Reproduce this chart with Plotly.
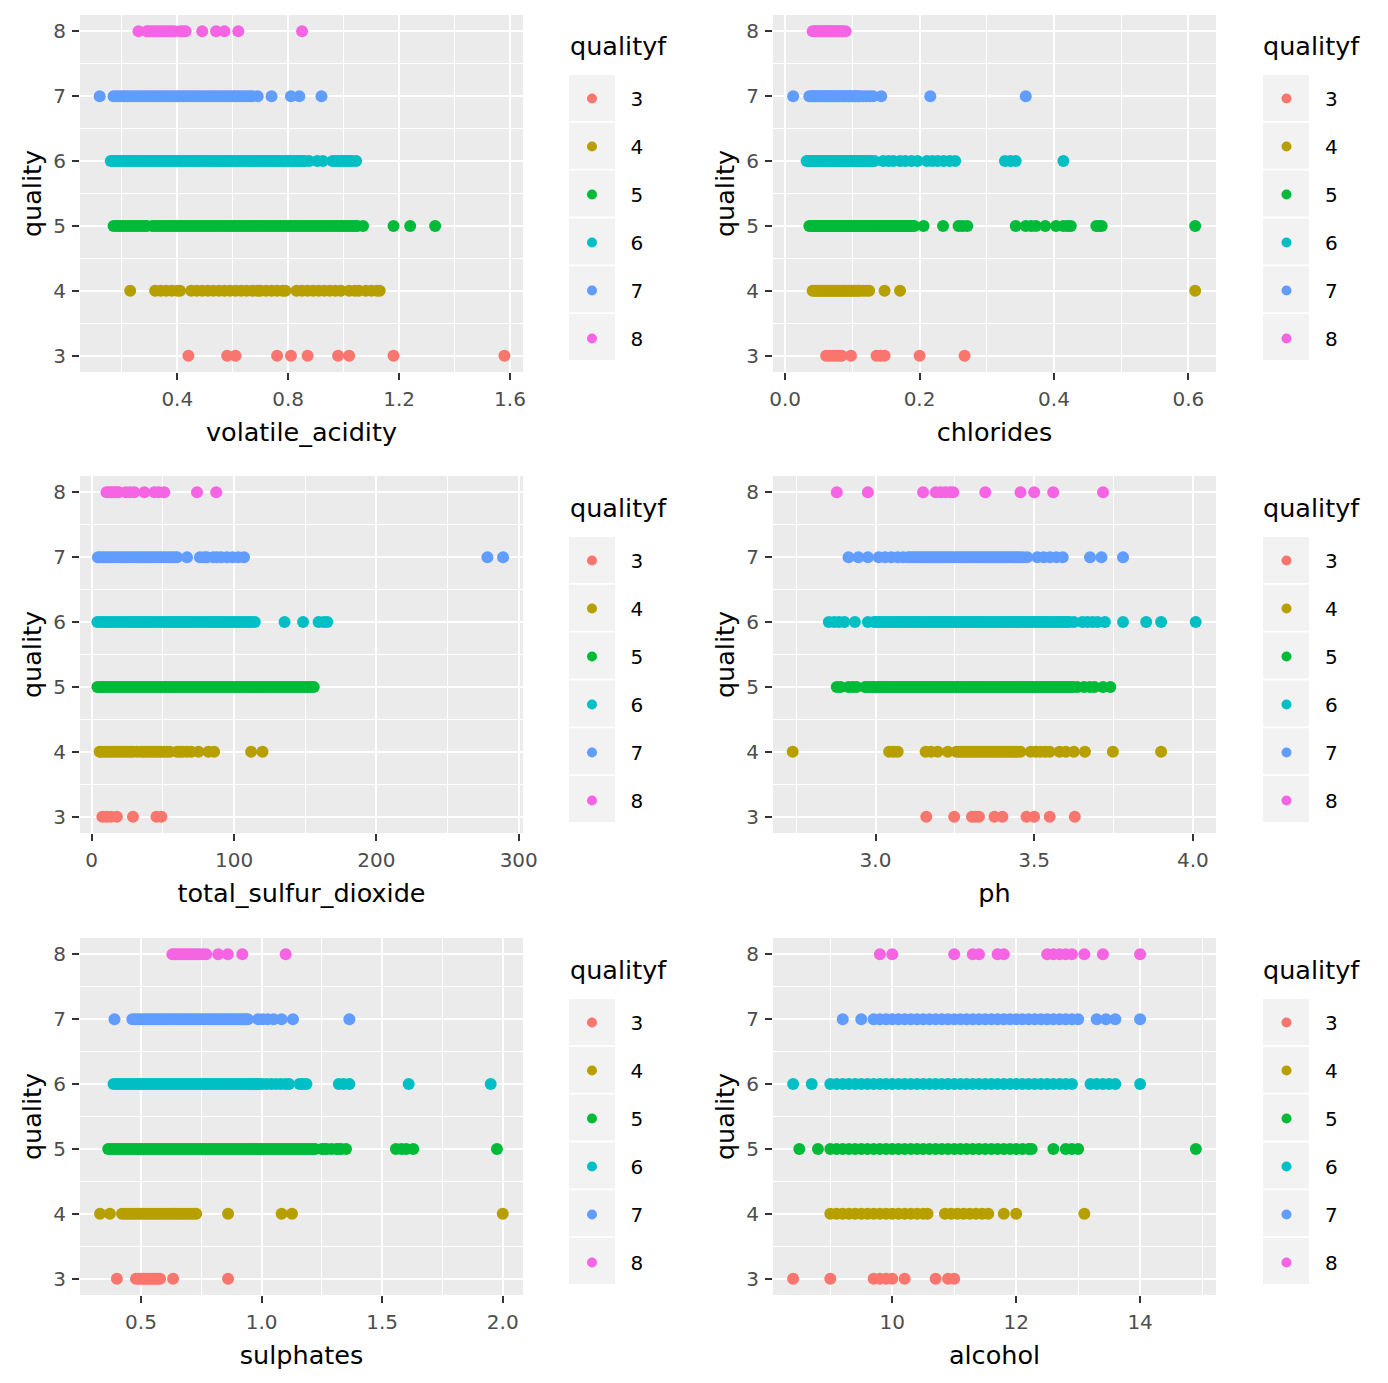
import plotly.graph_objects as go

# The page body has an 8px margin; the figure is sized so that it fits the window.
W, H = 1372, 1367

qualities = ["3", "4", "5", "6", "7", "8"]
colors = ["#F8766D", "#B79F00", "#00BA38", "#00BFC4", "#619CFF", "#F564E3"]

# ---------------- volatile_acidity ----------------
va_3 = [0.44, 0.58, 0.61, 0.76, 0.81, 0.87, 0.98, 1.02, 1.18, 1.58]
va_4 = [0.23, 0.32, 0.34, 0.36, 0.38, 0.40, 0.41, 0.45, 0.47, 0.49, 0.51, 0.53, 0.55,
        0.57, 0.59, 0.61, 0.63, 0.65, 0.67, 0.69, 0.70, 0.72, 0.74, 0.76, 0.78, 0.79,
        0.83, 0.85, 0.87, 0.89, 0.91, 0.93, 0.95, 0.97, 0.99, 1.02, 1.04, 1.055,
        1.08, 1.10, 1.12, 1.13]
va_5 = [0.17, 0.18, 0.19, 0.20, 0.21, 0.22, 0.23, 0.24, 0.25, 0.26, 0.27, 0.28, 0.29,
        0.31, 0.32, 0.33, 0.34, 0.35, 0.36, 0.37, 0.38, 0.39, 0.40, 0.41, 0.42, 0.43,
        0.44, 0.45, 0.46, 0.47, 0.48, 0.49, 0.50, 0.51, 0.52, 0.53, 0.54, 0.55, 0.56,
        0.57, 0.58, 0.59, 0.60, 0.61, 0.62, 0.63, 0.64, 0.65, 0.66, 0.67, 0.68, 0.69,
        0.70, 0.71, 0.72, 0.73, 0.74, 0.75, 0.76, 0.77, 0.78, 0.79, 0.80, 0.81, 0.82,
        0.83, 0.84, 0.85, 0.86, 0.87, 0.88, 0.89, 0.90, 0.91, 0.92, 0.93, 0.94, 0.95,
        0.96, 0.97, 0.98, 0.99, 1.00, 1.01, 1.02, 1.03, 1.04, 1.05, 1.07, 1.18, 1.24,
        1.33]
va_6 = [0.16, 0.17, 0.18, 0.19, 0.20, 0.21, 0.22, 0.23, 0.24, 0.25, 0.26, 0.27, 0.28,
        0.29, 0.30, 0.31, 0.32, 0.33, 0.34, 0.35, 0.36, 0.37, 0.38, 0.39, 0.40, 0.41,
        0.42, 0.43, 0.44, 0.45, 0.46, 0.47, 0.48, 0.49, 0.50, 0.51, 0.52, 0.53, 0.54,
        0.55, 0.56, 0.57, 0.58, 0.59, 0.60, 0.61, 0.62, 0.63, 0.64, 0.65, 0.66, 0.67,
        0.68, 0.69, 0.70, 0.71, 0.72, 0.73, 0.74, 0.75, 0.76, 0.77, 0.78, 0.79, 0.80,
        0.81, 0.82, 0.83, 0.84, 0.85, 0.86, 0.875, 0.905, 0.925, 0.96, 0.97, 0.98,
        0.99, 1.00, 1.01, 1.02, 1.03, 1.045]
va_7 = [0.12, 0.17, 0.18, 0.19, 0.20, 0.21, 0.22, 0.23, 0.24, 0.25, 0.26, 0.27, 0.28,
        0.29, 0.30, 0.31, 0.32, 0.33, 0.34, 0.35, 0.36, 0.37, 0.38, 0.39, 0.40, 0.41,
        0.42, 0.43, 0.44, 0.45, 0.46, 0.47, 0.48, 0.49, 0.50, 0.51, 0.52, 0.53, 0.54,
        0.55, 0.56, 0.57, 0.58, 0.59, 0.60, 0.61, 0.62, 0.63, 0.64, 0.65, 0.66, 0.67,
        0.69, 0.74, 0.81, 0.84, 0.92]
va_8 = [0.26, 0.29, 0.30, 0.31, 0.32, 0.33, 0.34, 0.35, 0.36, 0.37, 0.38, 0.39, 0.41,
        0.42, 0.43, 0.49, 0.54, 0.57, 0.62, 0.85]

# ---------------- chlorides ----------------
ch_3 = [0.061, 0.066, 0.071, 0.076, 0.080, 0.084, 0.098, 0.136, 0.142, 0.148, 0.200, 0.267]
ch_4 = [0.041, 0.044, 0.046, 0.049, 0.051, 0.054, 0.056, 0.059, 0.061, 0.064, 0.066,
        0.069, 0.071, 0.074, 0.076, 0.079, 0.081, 0.084, 0.086, 0.089, 0.091, 0.094,
        0.096, 0.099, 0.101, 0.104, 0.106, 0.109, 0.111, 0.116, 0.121, 0.125, 0.148,
        0.171, 0.610]
ch_5 = [0.036, 0.039, 0.041, 0.044, 0.046, 0.049, 0.051, 0.054, 0.056, 0.059, 0.061,
        0.064, 0.066, 0.069, 0.071, 0.074, 0.076, 0.079, 0.081, 0.084, 0.086, 0.089,
        0.091, 0.094, 0.096, 0.099, 0.101, 0.104, 0.106, 0.109, 0.111, 0.114, 0.116,
        0.119, 0.121, 0.124, 0.126, 0.129, 0.131, 0.134, 0.136, 0.139, 0.141, 0.144,
        0.146, 0.149, 0.151, 0.154, 0.156, 0.159, 0.161, 0.164, 0.166, 0.169, 0.171,
        0.174, 0.176, 0.179, 0.181, 0.184, 0.186, 0.189, 0.192, 0.206, 0.235, 0.258,
        0.264, 0.271, 0.343, 0.358, 0.366, 0.373, 0.387, 0.403, 0.414, 0.420, 0.425,
        0.463, 0.467, 0.471, 0.610]
ch_6 = [0.032, 0.035, 0.037, 0.040, 0.042, 0.045, 0.047, 0.050, 0.052, 0.055, 0.057,
        0.060, 0.062, 0.065, 0.067, 0.070, 0.072, 0.075, 0.077, 0.080, 0.082, 0.085,
        0.087, 0.090, 0.092, 0.095, 0.097, 0.100, 0.102, 0.105, 0.107, 0.110, 0.112,
        0.115, 0.117, 0.120, 0.122, 0.125, 0.127, 0.130, 0.133, 0.146, 0.154, 0.161,
        0.171, 0.179, 0.188, 0.197, 0.211, 0.219, 0.227, 0.236, 0.245, 0.253, 0.327,
        0.335, 0.343, 0.414]
ch_7 = [0.012, 0.036, 0.039, 0.041, 0.044, 0.046, 0.049, 0.051, 0.054, 0.056, 0.059,
        0.061, 0.064, 0.066, 0.069, 0.071, 0.074, 0.076, 0.079, 0.081, 0.084, 0.086,
        0.089, 0.091, 0.094, 0.096, 0.099, 0.101, 0.104, 0.106, 0.109, 0.111, 0.116,
        0.121, 0.126, 0.131, 0.143, 0.216, 0.358]
ch_8 = [0.041, 0.044, 0.046, 0.049, 0.051, 0.054, 0.056, 0.059, 0.061, 0.064, 0.066,
        0.069, 0.071, 0.074, 0.076, 0.079, 0.081, 0.084, 0.086, 0.090]

# ---------------- total_sulfur_dioxide ----------------
ts_3 = [7.5, 10.5, 13.5, 17.7, 29, 45.5, 49]
ts_4 = [5.6, 7, 9, 11, 13, 15, 17, 19, 21, 23, 25, 27, 29, 32, 35, 37, 39, 41, 43, 45,
        47, 49, 51, 53, 55, 60, 62, 64, 67, 70, 75, 82, 86, 112, 120]
ts_5 = [4, 6, 8, 10, 12, 14, 16, 18, 20, 22, 24, 26, 28, 30, 32, 34, 36, 38, 40, 42,
        44, 46, 48, 50, 52, 54, 56, 58, 60, 62, 64, 66, 68, 70, 72, 74, 76, 78, 80, 82,
        84, 86, 88, 90, 92, 94, 96, 98, 100, 102, 104, 106, 108, 110, 112, 114, 116,
        118, 120, 122, 124, 126, 128, 130, 132, 134, 136, 138, 140, 142, 144, 146, 148,
        150, 152, 154, 156]
ts_6 = [4, 6, 8, 10, 12, 14, 16, 18, 20, 22, 24, 26, 28, 30, 32, 34, 36, 38, 40, 42,
        44, 46, 48, 50, 52, 54, 56, 58, 60, 62, 64, 66, 68, 70, 72, 74, 76, 78, 80, 82,
        84, 86, 88, 90, 92, 94, 96, 98, 100, 102, 104, 106, 108, 110, 112, 114.6, 135.5,
        148.5, 159.4, 163, 165.5]
ts_7 = [4.4, 6, 8, 10, 12, 14, 16, 18, 20, 22, 24, 26, 28, 30, 32, 34, 36, 38, 40, 42,
        44, 46, 48, 50, 52, 54, 56, 58, 60, 67, 76, 79, 81, 85.5, 88, 91, 95, 99, 103,
        107, 278, 289]
ts_8 = [10.4, 12, 13.5, 15, 16.5, 18, 19, 24, 27, 30, 37, 44, 47, 51, 74, 87.5]

# ---------------- ph ----------------
ph_3 = [3.16, 3.248, 3.304, 3.315, 3.326, 3.375, 3.40, 3.476, 3.50, 3.549, 3.628]
ph_4 = [2.739, 3.043, 3.057, 3.07, 3.158, 3.175, 3.196, 3.228, 3.255, 3.263, 3.271,
        3.279, 3.287, 3.295, 3.303, 3.311, 3.319, 3.327, 3.335, 3.343, 3.351, 3.359,
        3.367, 3.375, 3.383, 3.391, 3.399, 3.407, 3.415, 3.423, 3.431, 3.439, 3.446,
        3.457, 3.489, 3.505, 3.52, 3.535, 3.549, 3.58, 3.60, 3.625, 3.66, 3.748, 3.90]
ph_5 = [2.878, 2.89, 2.915, 2.928, 2.94, 2.967, 2.975, 2.983, 2.991, 2.999, 3.007,
        3.015, 3.023, 3.031, 3.039, 3.047, 3.055, 3.063, 3.071, 3.079, 3.087, 3.095,
        3.103, 3.111, 3.119, 3.127, 3.135, 3.143, 3.151, 3.159, 3.167, 3.175, 3.183,
        3.191, 3.199, 3.207, 3.215, 3.223, 3.231, 3.239, 3.247, 3.255, 3.263, 3.271,
        3.279, 3.287, 3.295, 3.303, 3.311, 3.319, 3.327, 3.335, 3.343, 3.351, 3.359,
        3.367, 3.375, 3.383, 3.391, 3.399, 3.407, 3.415, 3.423, 3.431, 3.439, 3.447,
        3.455, 3.463, 3.471, 3.479, 3.487, 3.495, 3.503, 3.511, 3.519, 3.527, 3.535,
        3.543, 3.551, 3.559, 3.567, 3.575, 3.583, 3.591, 3.599, 3.607, 3.615, 3.623,
        3.636, 3.657, 3.675, 3.69, 3.717, 3.74]
ph_6 = [2.853, 2.87, 2.885, 2.902, 2.935, 2.976, 2.995, 3.003, 3.011, 3.019, 3.027,
        3.035, 3.043, 3.051, 3.059, 3.067, 3.075, 3.083, 3.091, 3.099, 3.107, 3.115,
        3.123, 3.131, 3.139, 3.147, 3.155, 3.163, 3.171, 3.179, 3.187, 3.195, 3.203,
        3.211, 3.219, 3.227, 3.235, 3.243, 3.251, 3.259, 3.267, 3.275, 3.283, 3.291,
        3.299, 3.307, 3.315, 3.323, 3.331, 3.339, 3.347, 3.355, 3.363, 3.371, 3.379,
        3.387, 3.395, 3.403, 3.411, 3.419, 3.427, 3.435, 3.443, 3.451, 3.459, 3.467,
        3.475, 3.483, 3.491, 3.499, 3.507, 3.515, 3.523, 3.531, 3.539, 3.547, 3.555,
        3.563, 3.571, 3.579, 3.587, 3.595, 3.603, 3.611, 3.625, 3.652, 3.668, 3.684,
        3.70, 3.723, 3.78, 3.853, 3.90, 4.009]
ph_7 = [2.915, 2.946, 2.976, 3.01, 3.03, 3.05, 3.07, 3.087, 3.103, 3.111, 3.119, 3.127,
        3.135, 3.143, 3.151, 3.159, 3.167, 3.175, 3.183, 3.191, 3.199, 3.207, 3.215,
        3.223, 3.231, 3.239, 3.247, 3.255, 3.263, 3.271, 3.279, 3.287, 3.295, 3.303,
        3.311, 3.319, 3.327, 3.335, 3.343, 3.351, 3.359, 3.367, 3.375, 3.383, 3.391,
        3.399, 3.407, 3.415, 3.423, 3.431, 3.439, 3.447, 3.455, 3.465, 3.478, 3.51,
        3.53, 3.55, 3.57, 3.59, 3.676, 3.712, 3.78]
ph_8 = [2.878, 2.976, 3.15, 3.19, 3.205, 3.22, 3.235, 3.245, 3.346, 3.457, 3.50, 3.56,
        3.717]

# ---------------- sulphates ----------------
su_3 = [0.40, 0.479, 0.49, 0.50, 0.51, 0.52, 0.53, 0.54, 0.55, 0.56, 0.57, 0.579, 0.633,
        0.861]
su_4 = [0.33, 0.371, 0.421, 0.432, 0.443, 0.454, 0.465, 0.476, 0.487, 0.498, 0.509,
        0.520, 0.531, 0.542, 0.553, 0.564, 0.575, 0.586, 0.597, 0.608, 0.619, 0.630,
        0.641, 0.652, 0.663, 0.674, 0.685, 0.696, 0.707, 0.718, 0.729, 0.861, 1.083,
        1.126, 2.0]
su_5 = [0.364, 0.375, 0.386, 0.397, 0.408, 0.419, 0.430, 0.441, 0.452, 0.463, 0.474,
        0.485, 0.496, 0.507, 0.518, 0.529, 0.540, 0.551, 0.562, 0.573, 0.584, 0.595,
        0.606, 0.617, 0.628, 0.639, 0.650, 0.661, 0.672, 0.683, 0.694, 0.705, 0.716,
        0.727, 0.738, 0.749, 0.760, 0.771, 0.782, 0.793, 0.804, 0.815, 0.826, 0.837,
        0.848, 0.859, 0.870, 0.881, 0.892, 0.903, 0.914, 0.925, 0.936, 0.947, 0.958,
        0.969, 0.980, 0.991, 1.002, 1.013, 1.024, 1.035, 1.046, 1.057, 1.068, 1.079,
        1.090, 1.101, 1.112, 1.123, 1.134, 1.145, 1.156, 1.167, 1.178, 1.189, 1.200,
        1.211, 1.222, 1.25, 1.26, 1.27, 1.29, 1.31, 1.32, 1.33, 1.35, 1.557, 1.58, 1.60,
        1.629, 1.976]
su_6 = [0.386, 0.397, 0.408, 0.419, 0.430, 0.441, 0.452, 0.463, 0.474, 0.485, 0.496,
        0.507, 0.518, 0.529, 0.540, 0.551, 0.562, 0.573, 0.584, 0.595, 0.606, 0.617,
        0.628, 0.639, 0.650, 0.661, 0.672, 0.683, 0.694, 0.705, 0.716, 0.727, 0.738,
        0.749, 0.760, 0.771, 0.782, 0.793, 0.804, 0.815, 0.826, 0.837, 0.848, 0.859,
        0.870, 0.881, 0.892, 0.903, 0.914, 0.925, 0.936, 0.947, 0.958, 0.969, 0.980,
        0.990, 1.0, 1.02, 1.04, 1.06, 1.08, 1.10, 1.114, 1.157, 1.17, 1.186, 1.32, 1.34,
        1.364, 1.61, 1.95]
su_7 = [0.39, 0.464, 0.475, 0.486, 0.497, 0.508, 0.519, 0.530, 0.541, 0.552, 0.563,
        0.574, 0.585, 0.596, 0.607, 0.618, 0.629, 0.640, 0.651, 0.662, 0.673, 0.684,
        0.695, 0.706, 0.717, 0.728, 0.739, 0.750, 0.761, 0.772, 0.783, 0.794, 0.805,
        0.816, 0.827, 0.838, 0.849, 0.860, 0.871, 0.882, 0.893, 0.904, 0.915, 0.926,
        0.935, 0.943, 0.986, 1.005, 1.025, 1.05, 1.083, 1.13, 1.364]
su_8 = [0.63, 0.641, 0.652, 0.663, 0.674, 0.685, 0.696, 0.707, 0.718, 0.729, 0.74,
        0.755, 0.77, 0.82, 0.86, 0.92, 1.10]

# ---------------- alcohol ----------------
al_3 = [8.4, 9.0, 9.7, 9.8, 9.9, 10.0, 10.2, 10.7, 10.9, 11.0]
al_4 = [9.0, 9.1, 9.2, 9.3, 9.4, 9.5, 9.6, 9.7, 9.8, 9.9, 10.0, 10.1, 10.2, 10.3, 10.4,
        10.5, 10.57, 10.85, 10.95, 11.05, 11.15, 11.25, 11.35, 11.45, 11.55, 11.8, 12.0,
        13.1]
al_5 = [8.5, 8.8, 9.0, 9.1, 9.2, 9.3, 9.4, 9.5, 9.6, 9.7, 9.8, 9.9, 10.0, 10.1, 10.2,
        10.3, 10.4, 10.5, 10.6, 10.7, 10.8, 10.9, 11.0, 11.1, 11.2, 11.3, 11.4, 11.5,
        11.6, 11.7, 11.8, 11.9, 12.0, 12.1, 12.2, 12.25, 12.6, 12.8, 12.9, 13.0, 14.9]
al_6 = [8.4, 8.7, 9.0, 9.1, 9.2, 9.3, 9.4, 9.5, 9.6, 9.7, 9.8, 9.9, 10.0, 10.1, 10.2,
        10.3, 10.4, 10.5, 10.6, 10.7, 10.8, 10.9, 11.0, 11.1, 11.2, 11.3, 11.4, 11.5,
        11.6, 11.7, 11.8, 11.9, 12.0, 12.1, 12.2, 12.3, 12.4, 12.5, 12.6, 12.7, 12.8,
        12.9, 13.2, 13.3, 13.4, 13.5, 13.6, 14.0]
al_7 = [9.2, 9.5, 9.7, 9.8, 9.9, 10.0, 10.1, 10.2, 10.3, 10.4, 10.5, 10.6, 10.7, 10.8,
        10.9, 11.0, 11.1, 11.2, 11.3, 11.4, 11.5, 11.6, 11.7, 11.8, 11.9, 12.0, 12.1,
        12.2, 12.3, 12.4, 12.5, 12.6, 12.7, 12.8, 12.9, 13.0, 13.3, 13.45, 13.6, 14.0]
al_8 = [9.8, 10.0, 11.0, 11.3, 11.4, 11.7, 11.8, 12.5, 12.6, 12.7, 12.8, 12.9, 13.1,
        13.4, 14.0]

variables = ["volatile_acidity", "chlorides", "total_sulfur_dioxide", "ph",
             "sulphates", "alcohol"]
series = [
    [va_3, va_4, va_5, va_6, va_7, va_8],
    [ch_3, ch_4, ch_5, ch_6, ch_7, ch_8],
    [ts_3, ts_4, ts_5, ts_6, ts_7, ts_8],
    [ph_3, ph_4, ph_5, ph_6, ph_7, ph_8],
    [su_3, su_4, su_5, su_6, su_7, su_8],
    [al_3, al_4, al_5, al_6, al_7, al_8],
]
x_ranges = [[0.049, 1.647], [-0.018, 0.641], [-8.2, 303.0], [2.677, 4.073],
            [0.247, 2.084], [8.075, 15.225]]
x_dticks = [0.4, 0.2, 100, 0.5, 0.5, 2]
x_formats = [".1f", ".1f", "d", ".1f", ".1f", "d"]

# ---------------- layout geometry (figure pixels) ----------------
col_left = [72, 765]
col_w = 443
row_top = [7, 468, 930]
row_h = 357
legend_x = [545.5, 1240]
legend_item_w = 67
key_x0 = [561, 1255]
key_w = 46
key_first = [90, 552, 1014]
key_step = 47.8
legend_title_x = [560, 1253]
legend_title_y = [38, 500, 962]

TICK_FONT = dict(family="DejaVu Sans", size=20, color="#4D4D4D")
TITLE_FONT = dict(family="DejaVu Sans", size=25.5, color="black")

fig = go.Figure()
layout = dict(
    width=W, height=H,
    margin=dict(l=0, r=0, t=0, b=0),
    paper_bgcolor="white",
    plot_bgcolor="#EBEBEB",
    showlegend=True,
    shapes=[],
    annotations=[],
)

for k in range(6):
    r, c = divmod(k, 2)
    suffix = "" if k == 0 else str(k + 1)
    xa, ya = "x" + suffix, "y" + suffix
    leg = "legend" + suffix
    for qi, q in enumerate(qualities):
        xs = series[k][qi]
        fig.add_trace(go.Scatter(
            x=xs, y=[int(q)] * len(xs), mode="markers",
            marker=dict(color=colors[qi], size=12, line=dict(width=0)),
            name=q, xaxis=xa, yaxis=ya, showlegend=False,
            legendgroup=f"p{k}q{q}", hoverinfo="x+y",
        ))
        # legend key (smaller glyph, as in the ggplot guide)
        fig.add_trace(go.Scatter(
            x=[None], y=[None], mode="markers",
            marker=dict(color=colors[qi], size=10, line=dict(width=0)),
            name=q, xaxis=xa, yaxis=ya, legend=leg, showlegend=True,
            legendgroup=f"p{k}q{q}", hoverinfo="skip",
        ))
    x0 = col_left[c] / W
    x1 = (col_left[c] + col_w) / W
    y1 = 1 - row_top[r] / H
    y0 = 1 - (row_top[r] + row_h) / H
    layout["xaxis" + suffix] = dict(
        domain=[x0, x1], anchor=ya, range=x_ranges[k],
        dtick=x_dticks[k], tick0=0, tickformat=x_formats[k],
        showgrid=True, gridcolor="white", gridwidth=2,
        minor=dict(dtick=x_dticks[k] / 2, tick0=0, showgrid=True,
                   gridcolor="white", gridwidth=1, ticks=""),
        zeroline=False, showline=False,
        ticks="outside", ticklen=7, tickwidth=1.5, tickcolor="#333333",
        tickfont=TICK_FONT, ticklabelstandoff=2,
        title=dict(text=variables[k], font=TITLE_FONT, standoff=13),
        automargin=False, fixedrange=True,
    )
    layout["yaxis" + suffix] = dict(
        domain=[y0, y1], anchor=xa, range=[2.75, 8.25],
        dtick=1, tick0=0,
        showgrid=True, gridcolor="white", gridwidth=2,
        minor=dict(dtick=0.5, tick0=0, showgrid=True,
                   gridcolor="white", gridwidth=1, ticks=""),
        zeroline=False, showline=False,
        ticks="outside", ticklen=7, tickwidth=1.5, tickcolor="#333333",
        tickfont=TICK_FONT, ticklabelstandoff=2,
        title=dict(text="quality", font=TITLE_FONT, standoff=4),
        automargin=False, fixedrange=True,
    )
    layout[leg] = dict(
        x=legend_x[c] / W, xanchor="left",
        y=1 - (key_first[r] - 19) / H, yanchor="top",
        bgcolor="rgba(0,0,0,0)", borderwidth=0,
        font=dict(family="DejaVu Sans", size=20, color="black"),
        itemwidth=legend_item_w,
        tracegroupgap=19, itemclick=False, itemdoubleclick=False,
    )
    layout["annotations"].append(dict(
        text="qualityf", xref="paper", yref="paper",
        x=legend_title_x[c] / W, y=1 - legend_title_y[r] / H,
        xanchor="left", yanchor="middle", showarrow=False,
        font=TITLE_FONT,
    ))
    for i in range(6):
        cy = key_first[r] + key_step * i
        layout["shapes"].append(dict(
            type="rect", xref="paper", yref="paper", layer="below",
            x0=key_x0[c] / W, x1=(key_x0[c] + key_w) / W,
            y0=1 - (cy + 23) / H, y1=1 - (cy - 23) / H,
            fillcolor="#F2F2F2", line=dict(width=0),
        ))

fig.update_layout(**layout)
fig.write_html("out.html")
